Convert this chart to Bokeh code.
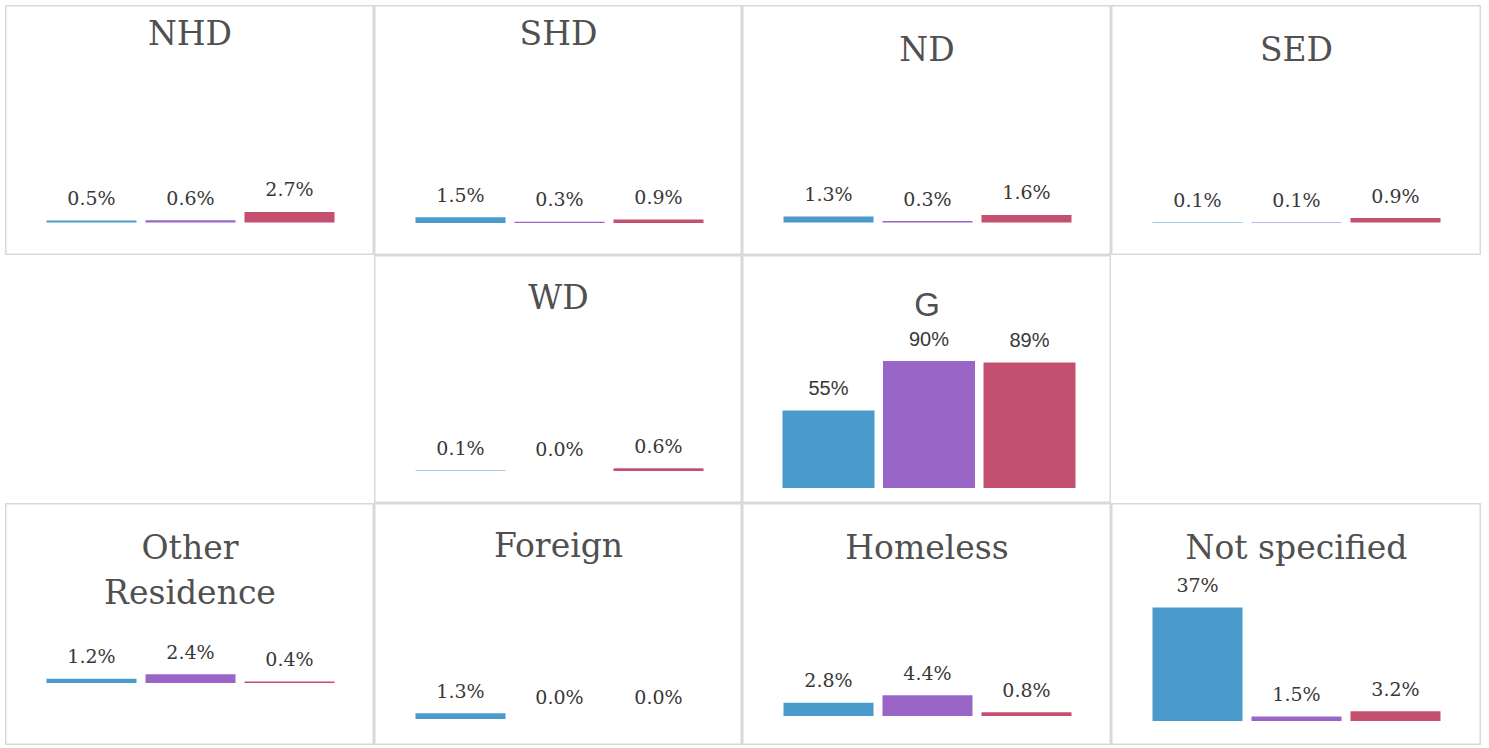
from bokeh.plotting import figure
from bokeh.models import Range1d, Label, Spacer, ColumnDataSource
from bokeh.layouts import row, column
from bokeh.core.properties import value
from bokeh.embed import file_html
from bokeh.resources import INLINE

# ---- data -------------------------------------------------------------
panels = ["NHD", "SHD", "ND", "SED", "WD", "G",
          "Other\nResidence", "Foreign", "Homeless", "Not specified"]
series_blue = [0.5, 1.5, 1.3, 0.1, 0.1, 55.0, 1.2, 1.3, 2.8, 37.0]
series_purple = [0.6, 0.3, 0.3, 0.1, 0.0, 90.0, 2.4, 0.0, 4.4, 1.5]
series_red = [2.7, 0.9, 1.6, 0.9, 0.6, 89.0, 0.4, 0.0, 0.8, 3.2]
colors = ["#4A9BCB", "#9966C8", "#C45070"]

# ---- layout / style ---------------------------------------------------
col_w = [369, 368, 369, 370]
row_h = [250, 248, 242]
# grid position of each panel (row, col)
grid_pos = [(0, 0), (0, 1), (0, 2), (0, 3), (1, 1), (1, 2),
            (2, 0), (2, 1), (2, 2), (2, 3)]
# baseline offset from panel top (px), px per %, title centre offsets
baseline = [217, 217.5, 217, 217, 215.5, 232.5, 179.5, 215.5, 212.5, 217.5]
px_per = [3.9, 3.8, 4.7, 5.0, 4.5, 1.41, 3.6, 4.4, 4.7, 3.07]
title_y = [28, 28, 44, 44, 42, 49, 44, 42, 44, 44]
serif = "DejaVu Serif"
sans = "Liberation Sans"
OFFSET = 5

TITLE_C = "#505050"
LABEL_C = "#383838"


def fmt(v):
    return f"{v:.0f}%" if v >= 10 else f"{v:.1f}%"


def make_panel(i):
    r, c = grid_pos[i]
    W, H = col_w[c], row_h[r]
    is_g = panels[i] == "G"
    spacing = 100.5 if is_g else 99.0
    bw = (92.0 if is_g else 90.0) / spacing
    x0 = -86.0 / spacing
    b, s = baseline[i], px_per[i]
    p = figure(width=W, height=H, output_backend="svg", toolbar_location=None,
               x_axis_type=None, y_axis_type=None,
               x_range=Range1d(x0, x0 + W / spacing),
               y_range=Range1d(-(H - b) / s, b / s),
               min_border=0, min_border_left=0, min_border_right=0,
               min_border_top=0, min_border_bottom=0)
    p.grid.visible = False
    p.outline_line_color = "#D9D9D9"
    p.outline_line_width = 2
    p.background_fill_color = "white"
    p.border_fill_color = "white"

    vals = [series_blue[i], series_purple[i], series_red[i]]
    src = ColumnDataSource(dict(x=[0, 1, 2], top=vals, color=colors,
                                lab=[fmt(v) for v in vals]))
    p.vbar(x="x", top="top", bottom=0, width=bw, fill_color="color",
           line_color=None, source=src)
    font = sans if is_g else serif
    p.text(x="x", y="top", text="lab", source=src, y_offset=-22.5,
           text_align="center", text_baseline="middle",
           text_font=value(font), text_font_size="20px" if is_g else "19px",
           text_color=LABEL_C)

    lines = panels[i].split("\n")
    for k, line in enumerate(lines):
        p.add_layout(Label(x=W / 2, y=H - (title_y[i] + 45 * k),
                           x_units="screen", y_units="screen", text=line,
                           text_align="center", text_baseline="middle",
                           text_font=font, text_font_size="33px",
                           text_color=TITLE_C))
    return p


cells = {}
for i in range(len(panels)):
    cells[grid_pos[i]] = make_panel(i)

rows = [Spacer(width=10, height=OFFSET)]
for r in range(3):
    items = [Spacer(width=OFFSET, height=row_h[r])]
    for c in range(4):
        if (r, c) in cells:
            items.append(cells[(r, c)])
        else:
            items.append(Spacer(width=col_w[c], height=row_h[r]))
    rows.append(row(*items, spacing=0))
layout = column(*rows, spacing=0)

open("out.html", "w").write(file_html(layout, INLINE))
